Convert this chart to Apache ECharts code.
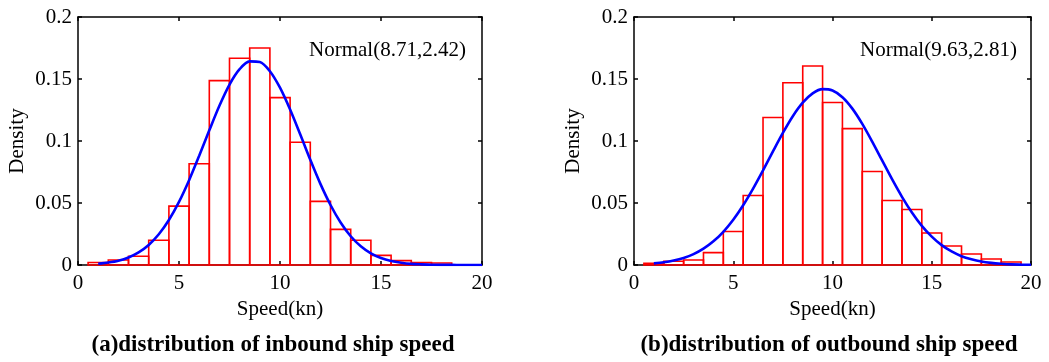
<!DOCTYPE html>
<html>
<head>
<meta charset="utf-8">
<script src="https://cdn.jsdelivr.net/npm/echarts@6/dist/echarts.min.js"></script>
<style>html,body{margin:0;padding:0;background:#fff}#c{width:1049px;height:362px}</style>
</head>
<body>
<div id="c"></div>
<script>
// Histogram bin centres (bin width 1)
var binCentersIn = [1,2,3,4,5,6,7,8,9,10,11,12,13,14,15,16,17,18];
var densityIn = [0.002,0.004,0.007,0.020,0.0475,0.0816,0.1487,0.1667,0.175,0.135,0.099,0.0513,0.0287,0.0199,0.0078,0.0035,0.0019,0.0016];
var binCentersOut = [1,2,3,4,5,6,7,8,9,10,11,12,13,14,15,16,17,18,19];
var densityOut = [0.0013,0.003,0.004,0.010,0.027,0.056,0.119,0.147,0.1605,0.131,0.110,0.0754,0.052,0.0448,0.0258,0.0153,0.0089,0.0048,0.0024];
// Fitted normal curves read along x
var curveX = [1,1.5,2,2.5,3,3.5,4,4.5,5,5.5,6,6.5,7,7.5,8,8.5,9,9.5,10,10.5,11,11.5,12,12.5,13,13.5,14,14.5,15,15.5,16,16.5,17,17.5,18,18.5,19,19.5,20];
var curveIn = [0.0010,0.0020,0.0035,0.0061,0.0102,0.0162,0.0248,0.0363,0.0509,0.0684,0.0881,0.1086,0.1284,0.1455,0.1579,0.1642,0.1637,0.1563,0.1430,0.1254,0.1054,0.0848,0.0654,0.0484,0.0343,0.0232,0.0151,0.0094,0.0056,0.0032,0.0018,0.0009,0.0005,0.0002,0.0001,0.0001,0.0000,0.0000,0.0000];
var curveOut = [0.0013,0.0022,0.0036,0.0057,0.0088,0.0132,0.0191,0.0268,0.0365,0.0482,0.0616,0.0763,0.0916,0.1065,0.1200,0.1309,0.1384,0.1418,0.1407,0.1353,0.1261,0.1138,0.0995,0.0843,0.0692,0.0550,0.0424,0.0316,0.0229,0.0160,0.0109,0.0071,0.0046,0.0028,0.0017,0.0010,0.0005,0.0003,0.0002];
var xTicks = [0,5,10,15,20];
var yTicks = [0,0.05,0.1,0.15,0.2];
var labelIn = 'Normal(8.71,2.42)';
var labelOut = 'Normal(9.63,2.81)';
var captionIn = '(a)distribution of inbound ship speed';
var captionOut = '(b)distribution of outbound ship speed';
var xName = 'Speed(kn)';
var yName = 'Density';

var FONT = 'Liberation Serif';
var chart = echarts.init(document.getElementById('c'), null, {renderer:'canvas'});

function zip(a,b){return a.map(function(v,i){return [v,b[i]];});}

var grids = [
  {left:78, top:17, width:404, height:248},
  {left:634, top:17, width:397, height:248}
];
var xAxes = [], yAxes = [];
for (var g=0; g<2; g++){
  var base = {gridIndex:g, type:'value', min:xTicks[0], max:xTicks[xTicks.length-1], interval:5,
    axisLine:{show:true, onZero:false, lineStyle:{color:'#000', width:1.5}},
    axisTick:{show:true, inside:true, length:4, lineStyle:{color:'#000', width:1.5}},
    splitLine:{show:false}};
  xAxes.push(Object.assign({}, base, {position:'bottom', name:xName, nameLocation:'middle', nameGap:31,
    nameTextStyle:{fontFamily:FONT, fontSize:21, color:'#000'},
    axisLabel:{fontFamily:FONT, fontSize:21, color:'#000', margin:8}}));
  xAxes.push(Object.assign({}, base, {position:'top', axisLabel:{show:false}}));
  var ybase = {gridIndex:g, type:'value', min:yTicks[0], max:yTicks[yTicks.length-1], interval:0.05,
    axisLine:{show:true, onZero:false, lineStyle:{color:'#000', width:1.5}},
    axisTick:{show:true, inside:true, length:4, lineStyle:{color:'#000', width:1.5}},
    splitLine:{show:false}};
  yAxes.push(Object.assign({}, ybase, {position:'left', name:yName, nameLocation:'middle', nameGap:50,
    nameTextStyle:{fontFamily:FONT, fontSize:21, color:'#000'},
    axisLabel:{fontFamily:FONT, fontSize:21, color:'#000', margin:6}}));
  yAxes.push(Object.assign({}, ybase, {position:'right', axisLabel:{show:false}}));
}

function histSeries(xi, yi, data){
  return {type:'custom', xAxisIndex:xi, yAxisIndex:yi, data:data, z:2,
    renderItem:function(params, api){
      var x = api.value(0), h = api.value(1);
      var p1 = api.coord([x-0.5, h]);
      var p2 = api.coord([x+0.5, 0]);
      return {type:'rect', shape:{x:p1[0], y:p1[1], width:p2[0]-p1[0], height:p2[1]-p1[1]},
        style:{fill:'rgba(255,255,255,0)', stroke:'#ff0000', lineWidth:1.6}};
    }};
}
function curveSeries(xi, yi, data){
  return {type:'line', xAxisIndex:xi, yAxisIndex:yi, data:data, smooth:0.3, showSymbol:false, symbol:'none', z:5,
    lineStyle:{color:'#0000ff', width:2.6}};
}

chart.setOption({
  animation:false,
  backgroundColor:'#fff',
  title:[
    {text:labelIn, left:304, top:35, textStyle:{fontFamily:FONT, fontSize:21, fontWeight:'normal', color:'#000'}},
    {text:labelOut, left:855, top:35, textStyle:{fontFamily:FONT, fontSize:21, fontWeight:'normal', color:'#000'}},
    {text:captionIn, left:268, top:329, textAlign:'center', textStyle:{fontFamily:FONT, fontSize:23, fontWeight:'bold', color:'#000'}},
    {text:captionOut, left:824, top:329, textAlign:'center', textStyle:{fontFamily:FONT, fontSize:23, fontWeight:'bold', color:'#000'}}
  ],
  grid:grids,
  xAxis:xAxes,
  yAxis:yAxes,
  series:[
    histSeries(0,0,zip(binCentersIn,densityIn)),
    curveSeries(0,0,zip(curveX,curveIn)),
    histSeries(2,2,zip(binCentersOut,densityOut)),
    curveSeries(2,2,zip(curveX,curveOut))
  ]
});
</script>
</body>
</html>
